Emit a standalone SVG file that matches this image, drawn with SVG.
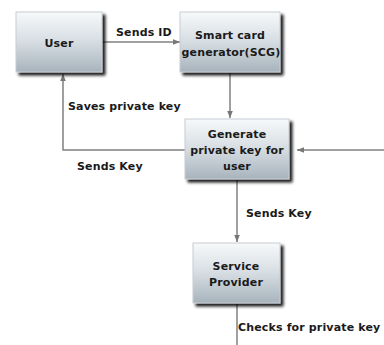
<svg xmlns="http://www.w3.org/2000/svg" width="384" height="345" viewBox="0 0 384 345">
<defs>
<linearGradient id="g" x1="0" y1="0" x2="0" y2="1">
<stop offset="0" stop-color="#f7f9fa"/>
<stop offset="0.5" stop-color="#d6dde2"/>
<stop offset="1" stop-color="#a7b3bc"/>
</linearGradient>
<filter id="sh" x="-20%" y="-20%" width="150%" height="150%">
<feGaussianBlur in="SourceAlpha" stdDeviation="1.5"/>
<feOffset dx="3" dy="3" result="b"/>
<feComponentTransfer><feFuncA type="linear" slope="0.9"/></feComponentTransfer>
<feMerge><feMergeNode/><feMergeNode in="SourceGraphic"/></feMerge>
</filter>
<marker id="ah" viewBox="0 0 10 10" refX="10" refY="5" markerWidth="7" markerHeight="7" markerUnits="userSpaceOnUse" orient="auto">
<path d="M0,1 L10,5 L0,9 z" fill="#777"/>
</marker>
</defs>
<style>
.box{fill:url(#g);stroke:#c8ced3;stroke-width:1;filter:url(#sh)}
.t{font-family:"DejaVu Sans",Verdana,sans-serif;font-weight:bold;font-size:11px;letter-spacing:0.15px;fill:#1a1a1a}
.c{text-anchor:middle}
.ln{fill:none;stroke:#808080;stroke-width:1.5}
</style>
<rect width="384" height="345" fill="#fff"/>
<g id="connectors">
<line class="ln" x1="103" y1="42" x2="180" y2="42" marker-end="url(#ah)"/>
<line class="ln" x1="230" y1="73" x2="230" y2="118" marker-end="url(#ah)"/>
<polyline class="ln" points="185,150 63,150 63,74" marker-end="url(#ah)"/>
<line class="ln" x1="384" y1="150" x2="297" y2="150" marker-end="url(#ah)"/>
<line class="ln" x1="237" y1="180" x2="237" y2="242" marker-end="url(#ah)"/>
<line class="ln" x1="237" y1="304" x2="237" y2="345"/>
<text class="t" x="116" y="36">Sends ID</text>
<text class="t" x="68" y="110">Saves private key</text>
<text class="t" x="77" y="170">Sends Key</text>
<text class="t" x="246" y="217">Sends Key</text>
<text class="t" x="238" y="331">Checks for private key</text>
</g>
<g id="user">
<rect class="box" x="16" y="12" width="86" height="60"/>
<text class="t c" x="59" y="47">User</text>
</g>
<g id="scg">
<rect class="box" x="180" y="12" width="100" height="60"/>
<text class="t c" x="230" y="39">Smart card</text>
<text class="t c" x="231" y="56">generator(SCG)</text>
</g>
<g id="generate">
<rect class="box" x="185" y="119" width="104" height="60"/>
<text class="t c" x="237" y="138">Generate</text>
<text class="t c" x="237" y="154">private key for</text>
<text class="t c" x="237" y="170">user</text>
</g>
<g id="service">
<rect class="box" x="193" y="243" width="87" height="60"/>
<text class="t c" x="236" y="270">Service</text>
<text class="t c" x="236" y="286">Provider</text>
</g>
</svg>
